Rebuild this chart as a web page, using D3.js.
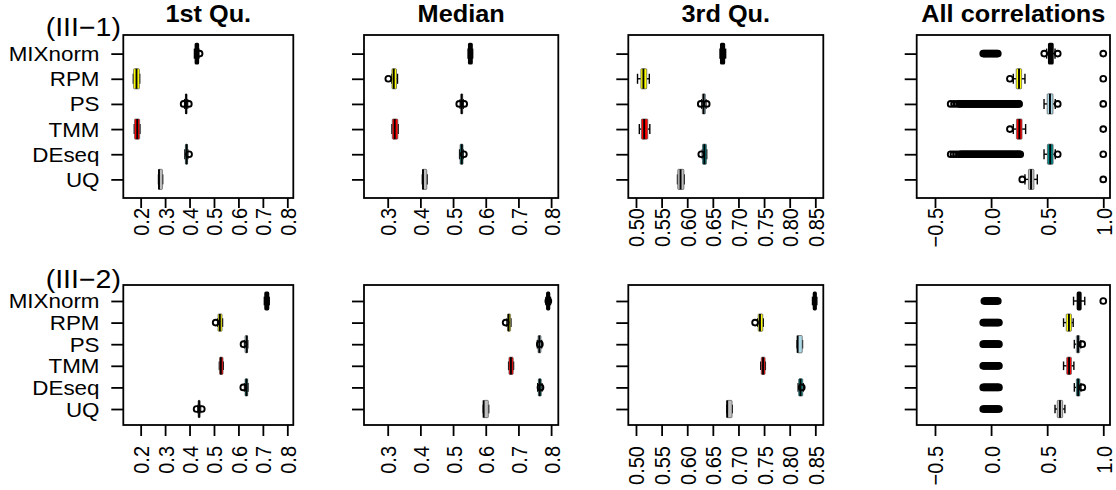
<!DOCTYPE html>
<html><head><meta charset="utf-8">
<script src="https://cdn.jsdelivr.net/npm/d3@7"></script>
<style>body{margin:0;background:#fff} svg{display:block}</style>
</head><body>
<svg id="c" width="1116" height="490"></svg>
<script>
// ---------------- data ----------------
const methods = ["MIXnorm", "RPM", "PS", "TMM", "DEseq", "UQ"];
const fills = ["#000000", "#FFFF00", "#ADD8E6", "#FF0000", "#008B8B", "#BEBEBE"];
const panelTitles = ["1st Qu.", "Median", "3rd Qu.", "All correlations"];
const rowTags = ["(III\u22121)", "(III\u22122)"];

const ticksQ1 = [0.2, 0.3, 0.4, 0.5, 0.6, 0.7, 0.8];
const tickLabelsQ1 = ["0.2", "0.3", "0.4", "0.5", "0.6", "0.7", "0.8"];
const ticksMed = [0.3, 0.4, 0.5, 0.6, 0.7, 0.8];
const tickLabelsMed = ["0.3", "0.4", "0.5", "0.6", "0.7", "0.8"];
const ticksQ3 = [0.50, 0.55, 0.60, 0.65, 0.70, 0.75, 0.80, 0.85];
const tickLabelsQ3 = ["0.50", "0.55", "0.60", "0.65", "0.70", "0.75", "0.80", "0.85"];
const ticksAll = [-0.5, 0.0, 0.5, 1.0];
const tickLabelsAll = ["\u22120.5", "0.0", "0.5", "1.0"];

// [lower whisker, Q1, median, Q3, upper whisker] per method
const q1Row1Stats = [
  [0.420, 0.424, 0.430, 0.436, 0.438],
  [0.170, 0.171, 0.183, 0.195, 0.196],
  [0.380, 0.383, 0.386, 0.390, 0.392],
  [0.174, 0.175, 0.186, 0.196, 0.197],
  [0.381, 0.383, 0.388, 0.392, 0.393],
  [0.273, 0.274, 0.275, 0.289, 0.290]
];
const q1Row1Out = [[0.441], [], [0.376, 0.397], [], [0.398], []];

const medRow1Stats = [
  [0.546, 0.548, 0.553, 0.558, 0.560],
  [0.3125, 0.313, 0.3185, 0.327, 0.330],
  [0.522, 0.5235, 0.5265, 0.5295, 0.531],
  [0.313, 0.314, 0.3215, 0.331, 0.332],
  [0.520, 0.5215, 0.5265, 0.5305, 0.531],
  [0.406, 0.407, 0.408, 0.4195, 0.4205]
];
const medRow1Out = [[], [0.302], [0.519, 0.534], [], [0.533], []];

const q3Row1Stats = [
  [0.664, 0.6655, 0.669, 0.6725, 0.675],
  [0.503, 0.5095, 0.5145, 0.521, 0.526],
  [0.6285, 0.6295, 0.632, 0.6355, 0.6365],
  [0.5065, 0.5105, 0.516, 0.523, 0.527],
  [0.6295, 0.6298, 0.6335, 0.6375, 0.638],
  [0.581, 0.5815, 0.587, 0.5935, 0.594]
];
const q3Row1Out = [[], [], [0.6265, 0.638], [], [0.6275], []];

const allRow1Stats = [
  [0.495, 0.514, 0.532, 0.551, 0.570],
  [0.198, 0.224, 0.249, 0.272, 0.302],
  [0.472, 0.500, 0.525, 0.552, 0.572],
  [0.198, 0.226, 0.252, 0.276, 0.308],
  [0.472, 0.502, 0.527, 0.553, 0.572],
  [0.302, 0.333, 0.356, 0.382, 0.412]
];
const allRow1Out = [
  [-0.07, -0.06, -0.05, -0.04, -0.03, -0.02, -0.01, 0.00, 0.01, 0.02, 0.03, 0.04, 0.05, 0.06, 0.474, 0.594, 1.0],
  [0.168, 1.0],
  [-0.36, -0.33, -0.30, -0.28, -0.27, -0.26, -0.25, -0.24, -0.23, -0.22, -0.21, -0.20, -0.19, -0.18, -0.17, -0.16, -0.15, -0.14, -0.13, -0.12, -0.11, -0.10, -0.09, -0.08, -0.07, -0.06, -0.05, -0.04, -0.03, -0.02, -0.01, 0.00, 0.01, 0.02, 0.03, 0.04, 0.05, 0.06, 0.07, 0.08, 0.09, 0.10, 0.11, 0.12, 0.13, 0.14, 0.15, 0.16, 0.17, 0.18, 0.19, 0.20, 0.21, 0.22, 0.23, 0.24, 0.25, 0.594, 1.0],
  [0.168, 1.0],
  [-0.36, -0.335, -0.31, -0.285, -0.27, -0.26, -0.25, -0.24, -0.23, -0.22, -0.21, -0.20, -0.19, -0.18, -0.17, -0.16, -0.15, -0.14, -0.13, -0.12, -0.11, -0.10, -0.09, -0.08, -0.07, -0.06, -0.05, -0.04, -0.03, -0.02, -0.01, 0.00, 0.01, 0.02, 0.03, 0.04, 0.05, 0.06, 0.07, 0.08, 0.09, 0.10, 0.11, 0.12, 0.13, 0.14, 0.15, 0.16, 0.17, 0.18, 0.19, 0.20, 0.21, 0.22, 0.23, 0.24, 0.25, 0.26, 0.594, 1.0],
  [0.278, 1.0]
];

const q1Row2Stats = [
  [0.706, 0.709, 0.716, 0.723, 0.726],
  [0.515, 0.5165, 0.524, 0.533, 0.535],
  [0.625, 0.627, 0.634, 0.6375, 0.638],
  [0.522, 0.523, 0.528, 0.537, 0.538],
  [0.625, 0.627, 0.633, 0.638, 0.639],
  [0.434, 0.435, 0.439, 0.444, 0.445]
];
const q1Row2Out = [[], [0.507], [0.621], [], [0.620], [0.429, 0.450]];

const medRow2Stats = [
  [0.784, 0.787, 0.791, 0.795, 0.798],
  [0.665, 0.6665, 0.670, 0.676, 0.677],
  [0.758, 0.760, 0.764, 0.769, 0.771],
  [0.670, 0.671, 0.677, 0.684, 0.685],
  [0.759, 0.761, 0.765, 0.770, 0.772],
  [0.5925, 0.593, 0.5935, 0.608, 0.609]
];
const medRow2Out = [[0.7915], [0.661], [0.7655], [], [0.7675], []];

const q3Row2Stats = [
  [0.8445, 0.8465, 0.849, 0.8515, 0.853],
  [0.7375, 0.7385, 0.742, 0.7475, 0.7485],
  [0.8145, 0.815, 0.8155, 0.8245, 0.825],
  [0.7435, 0.7445, 0.748, 0.752, 0.7525],
  [0.8165, 0.8175, 0.821, 0.8255, 0.8265],
  [0.677, 0.6775, 0.678, 0.6875, 0.688]
];
const q3Row2Out = [[], [0.7325], [], [], [0.8235], []];

const allRow2Stats = [
  [0.735, 0.770, 0.785, 0.800, 0.835],
  [0.646, 0.670, 0.694, 0.716, 0.732],
  [0.742, 0.760, 0.775, 0.790, 0.800],
  [0.646, 0.674, 0.695, 0.716, 0.738],
  [0.742, 0.760, 0.776, 0.792, 0.801],
  [0.570, 0.590, 0.614, 0.638, 0.658]
];
const allRow2Out = [
  [-0.06, -0.05, -0.04, -0.03, -0.02, -0.01, 0.00, 0.01, 0.02, 0.03, 0.04, 0.05, 0.06, 1.0],
  [-0.07, -0.06, -0.05, -0.04, -0.03, -0.02, -0.01, 0.00, 0.01, 0.02, 0.03, 0.04, 0.05, 0.06, 0.07],
  [-0.07, -0.06, -0.05, -0.04, -0.03, -0.02, -0.01, 0.00, 0.01, 0.02, 0.03, 0.04, 0.05, 0.06, 0.07, 0.812],
  [-0.07, -0.06, -0.05, -0.04, -0.03, -0.02, -0.01, 0.00, 0.01, 0.02, 0.03, 0.04, 0.05, 0.06, 0.07],
  [-0.07, -0.06, -0.05, -0.04, -0.03, -0.02, -0.01, 0.00, 0.01, 0.02, 0.03, 0.04, 0.05, 0.06, 0.07, 0.813],
  [-0.07, -0.06, -0.05, -0.04, -0.03, -0.02, -0.01, 0.00, 0.01, 0.02, 0.03, 0.04, 0.05, 0.06, 0.07]
];

// ---------------- layout ----------------
const FONT = "'Liberation Sans', Arial, Helvetica, sans-serif";
const SX = 1.12;
const cols = [
  { left: 123.3, right: 293.3, domain: [0.129, 0.8245], ticks: ticksQ1, labels: tickLabelsQ1 },
  { left: 364, right: 558.3, domain: [0.2275, 0.822], ticks: ticksMed, labels: tickLabelsMed },
  { left: 628.3, right: 823.3, domain: [0.485, 0.8656], ticks: ticksQ3, labels: tickLabelsQ3 },
  { left: 916.7, right: 1110, domain: [-0.663, 1.06], ticks: ticksAll, labels: tickLabelsAll }
];
const rows = [
  { top: 35, bottom: 198, labelTop: 208, tickLen: 10, tagBase: 35.5 },
  { top: 285, bottom: 425, labelTop: 446, tickLen: 11, tagBase: 287.5 }
];
const panelData = [
  [[q1Row1Stats, q1Row1Out], [medRow1Stats, medRow1Out], [q3Row1Stats, q3Row1Out], [allRow1Stats, allRow1Out]],
  [[q1Row2Stats, q1Row2Out], [medRow2Stats, medRow2Out], [q3Row2Stats, q3Row2Out], [allRow2Stats, allRow2Out]]
];

const svg = d3.select("#c");
svg.append("rect").attr("width", 1116).attr("height", 490).attr("fill", "#fff");

rows.forEach((row, ri) => {
  const y = d3.scaleLinear().domain([-0.74, 5.74]).range([row.top, row.bottom]);
  const step = y(1) - y(0);
  const hw = 0.4 * step, sw = 0.2 * step;

  svg.append("text")
    .attr("transform", `translate(121,${row.tagBase}) scale(${SX},1)`)
    .attr("text-anchor", "end")
    .attr("font-family", FONT).attr("font-size", 25.5)
    .text(rowTags[ri]);

  cols.forEach((col, ci) => {
    const x = d3.scaleLinear().domain(col.domain).range([col.left, col.right]);
    const g = svg.append("g");
    const [stats, outs] = panelData[ri][ci];

    if (ri === 0) {
      svg.append("text")
        .attr("transform", `translate(${(col.left + col.right) / 2},22) scale(1.1,1)`)
        .attr("text-anchor", "middle")
        .attr("font-family", FONT).attr("font-size", 23).attr("font-weight", "bold")
        .text(panelTitles[ci]);
    }

    stats.forEach((s, i) => {
      const cy = y(i);
      const [wlo, q1, med, q3, whi] = s;
      const bg = g.append("g");
      bg.append("line").attr("x1", x(wlo)).attr("x2", x(q1)).attr("y1", cy).attr("y2", cy)
        .attr("stroke", "#000").attr("stroke-width", 1.4);
      bg.append("line").attr("x1", x(q3)).attr("x2", x(whi)).attr("y1", cy).attr("y2", cy)
        .attr("stroke", "#000").attr("stroke-width", 1.4);
      [wlo, whi].forEach(v => {
        bg.append("line").attr("x1", x(v)).attr("x2", x(v)).attr("y1", cy - sw).attr("y2", cy + sw)
          .attr("stroke", "#000").attr("stroke-width", 1.4);
      });
      bg.append("rect").attr("x", x(q1)).attr("y", cy - hw)
        .attr("width", Math.max(0, x(q3) - x(q1))).attr("height", 2 * hw)
        .attr("rx", 0.8)
        .attr("fill", fills[i]).attr("stroke", i === 0 ? "#000" : "#555").attr("stroke-width", i === 0 ? 1.6 : 0.7);
      bg.append("line").attr("x1", x(med)).attr("x2", x(med)).attr("y1", cy - hw).attr("y2", cy + hw)
        .attr("stroke", "#000").attr("stroke-width", 1.9);
      bg.selectAll("circle").data(outs[i]).join("circle")
        .attr("cx", d => x(d)).attr("cy", cy).attr("r", 2.9)
        .attr("fill", "none").attr("stroke", "#000").attr("stroke-width", 1.9);
    });

    svg.append("rect").attr("x", col.left).attr("y", row.top)
      .attr("width", col.right - col.left).attr("height", row.bottom - row.top)
      .attr("fill", "none").attr("stroke", "#000").attr("stroke-width", 1.8);

    const xa = svg.append("g").attr("transform", `translate(0,${row.bottom})`)
      .call(d3.axisBottom(x).tickValues(col.ticks).tickFormat((d, k) => col.labels[k])
        .tickSize(row.tickLen).tickSizeOuter(0));
    xa.select(".domain").remove();
    xa.selectAll(".tick line").attr("stroke", "#000").attr("stroke-width", 1.8);
    xa.selectAll(".tick text")
      .attr("x", null).attr("y", null).attr("dy", null)
      .attr("fill", "#000")
      .attr("font-family", FONT).attr("font-size", 20)
      .attr("text-anchor", "end")
      .attr("transform", `translate(8,${row.labelTop - row.bottom}) scale(${SX},1) rotate(-90)`);

    const ya = svg.append("g").attr("transform", `translate(${col.left},0)`)
      .call(d3.axisLeft(y).tickValues([0, 1, 2, 3, 4, 5])
        .tickFormat(k => ci === 0 ? methods[k] : "")
        .tickSize(12).tickSizeOuter(0));
    ya.select(".domain").remove();
    ya.selectAll(".tick line").attr("stroke", "#000").attr("stroke-width", 1.8);
    ya.selectAll(".tick text")
      .attr("x", null).attr("dy", null)
      .attr("fill", "#000")
      .attr("font-family", FONT).attr("font-size", 20)
      .attr("text-anchor", "end")
      .attr("transform", `translate(${99.5 - col.left},7) scale(${SX},1)`);
  });
});
</script>
</body></html>
